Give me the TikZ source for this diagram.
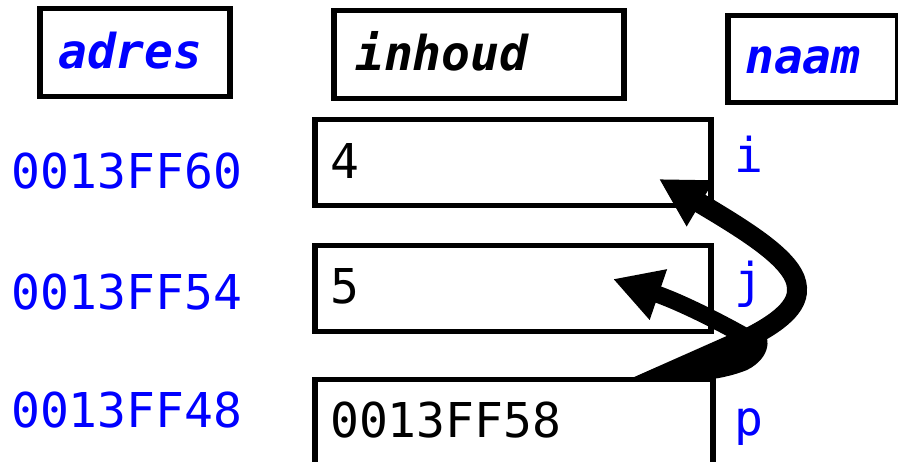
\documentclass[tikz,border=0pt]{standalone}
\usepackage{fontspec}
\setmonofont{DejaVu Sans Mono}
\usetikzlibrary{arrows.meta}
\definecolor{addrblue}{RGB}{0,0,255}
\tikzset{
  cell/.style={draw=black, line width=5.5pt, rectangle, inner sep=0pt, anchor=north west},
  headtxt/.style={inner sep=0pt, anchor=base west, font=\fontsize{48}{50}\selectfont\ttfamily\bfseries\itshape},
  addrtxt/.style={inner sep=0pt, anchor=base west, text=addrblue, font=\fontsize{48}{50}\selectfont\ttfamily},
  valtxt/.style={inner sep=0pt, anchor=base west, text=black, font=\fontsize{48}{50}\selectfont\ttfamily},
  pointer/.style={draw=black, line width=20pt, -{Triangle[length=48pt, width=50pt]}},
}
\begin{document}
\begin{tikzpicture}[x=1pt, y=-1pt]
\useasboundingbox (0,0) rectangle (898,462);

% column headers
\node[cell, minimum width=190pt, minimum height=88pt] (hAdres) at (37,6) {};
\node[cell, minimum width=290pt, minimum height=88pt] (hInhoud) at (331,8) {};
\node[cell, minimum width=170pt, minimum height=87pt] (hNaam) at (725,13) {};
\node[headtxt, text=addrblue] (tAdres) at (58,69) {adres};
\node[headtxt, text=black] (tInhoud) at (355,71) {inhoud};
\node[headtxt, text=addrblue] (tNaam) at (745,74) {naam};

% memory cells
\node[cell, minimum width=396pt, minimum height=86pt] (cellI) at (312,117) {};
\node[cell, minimum width=396pt, minimum height=86pt] (cellJ) at (312,243) {};
\node[cell, minimum width=398pt, minimum height=86pt] (cellP) at (312,377) {};

% addresses
\node[addrtxt] (aI) at (11,189) {0013FF60};
\node[addrtxt] (aJ) at (11,310) {0013FF54};
\node[addrtxt] (aP) at (11,428) {0013FF48};

% contents
\node[valtxt] (vI) at (330,179) {4};
\node[valtxt] (vJ) at (330,304) {5};
\node[valtxt] (vP) at (330,438) {0013FF58};

% variable names
\node[addrtxt] (nI) at (734,173) {i};
\node[addrtxt] (nJ) at (734,298) {j};
\node[addrtxt] (nP) at (734,436) {p};

% pointer arrows from p
\coordinate (pBase) at (632,378);
\coordinate (pRoot) at (748,338);
\coordinate (toI) at (659,179);
\coordinate (toJ) at (613,279);

\fill[black] (pBase) -- (738,331) -- (758,327)
  .. controls (773,335) and (771,358) .. (747,370)
  .. controls (732,376) and (716,379) .. (704,380) -- cycle;
\draw[pointer, line width=17pt] (pRoot) .. controls (720,322) and (680,302) .. (toJ);
\draw[pointer] (pRoot) .. controls (788,318) and (798,302) .. (797,288)
  .. controls (796,262) and (752,234) .. (toI);
\end{tikzpicture}
\end{document}
